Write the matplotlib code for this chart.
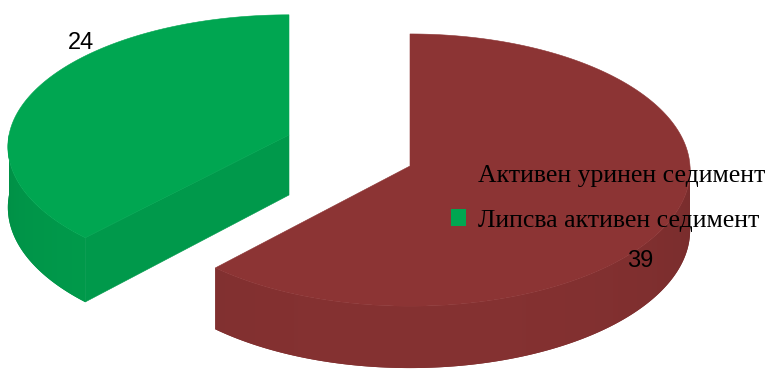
import numpy as np
import matplotlib
matplotlib.use("Agg")
import matplotlib.pyplot as plt
from matplotlib.patches import Polygon, Patch

# Data
categories = ["Активен уринен седимент", "Липсва активен седимент"]
values = [39, 24]
top_colors = ["#8C3434", "#00A651"]

# Canvas in pixel units
W, H = 773, 369
fig = plt.figure(figsize=(W / 100, H / 100), dpi=100)
ax = fig.add_axes([0, 0, 1, 1])
ax.set_xlim(0, W)
ax.set_ylim(H, 0)
ax.axis("off")

# 3-D pie geometry (pixels)
RX = 280
DEPTH = 60
# per-slice centre, vertical radius, perspective strength and label placement
slice_geom = [
    dict(cx=410, cy=166, ry=136, k=0.03, lab_off=19.0, lab_r=1.06),
    dict(cx=289, cy=135, ry=131, k=0.09, lab_off=22.0, lab_r=1.09),
]


def proj(g, theta_deg, r=1.0, z=0.0):
    """theta measured clockwise from 12 o'clock; z=1 is the bottom of the slab."""
    t = np.radians(theta_deg)
    u = r * np.sin(t)
    v = -r * np.cos(t)
    s = 1.0 / (1.0 - g["k"] * v)
    return g["cx"] + RX * u * s, g["cy"] + (g["ry"] * v + DEPTH * z) * s


def shade_factor(theta_deg):
    return 0.86 + 0.09 * (-np.cos(np.radians(theta_deg)))


total = float(sum(values))
bounds = np.concatenate([[0], np.cumsum(values) / total * 360.0])

# back slice first, front slice last
order = [1, 0]
for i in order:
    g = slice_geom[i]
    a, b = bounds[i], bounds[i + 1]
    col = np.array(matplotlib.colors.to_rgb(top_colors[i]))

    # curved outer wall (only the front half faces the viewer), shaded along x
    lo, hi = max(a, 90.0), min(b, 270.0)
    if hi > lo:
        th = np.linspace(lo, hi, 240)
        top = [proj(g, t) for t in th]
        bot = [proj(g, t, z=1) for t in th[::-1]]
        wall = Polygon(top + bot, closed=True, facecolor=tuple(col * 0.88),
                       edgecolor="none", zorder=2)
        ax.add_patch(wall)
        xs = np.array([p[0] for p in top])
        fs = shade_factor(th)
        srt = np.argsort(xs)
        x0, x1 = xs.min() - 2, xs.max() + 2
        cols = np.linspace(x0, x1, 400)
        fcol = np.interp(cols, xs[srt], fs[srt])
        img = np.clip(fcol[None, :, None] * col[None, None, :], 0, 1)
        img = np.repeat(img, 2, axis=0)
        ys = [p[1] for p in top + bot]
        im = ax.imshow(img, extent=(x0, x1, max(ys) + 2, min(ys) - 2),
                       aspect="auto", interpolation="bilinear", zorder=2)
        im.set_clip_path(wall)
        ax.set_xlim(0, W)
        ax.set_ylim(H, 0)

    # flat radial walls, drawn when they face the viewer
    for edge, sign in ((a, -1), (b, 1)):
        nv = sign * np.sin(np.radians(edge))
        if nv > 0.05:
            p = [proj(g, edge, r=0), proj(g, edge), proj(g, edge, z=1),
                 proj(g, edge, r=0, z=1)]
            c = tuple(col * 0.92)
            ax.add_patch(Polygon(p, closed=True, facecolor=c, edgecolor=c,
                                 lw=0.4, zorder=2))

    # top face
    th = np.linspace(a, b, 300)
    pts = [proj(g, 0, r=0)] + [proj(g, t) for t in th]
    ax.add_patch(Polygon(pts, closed=True, facecolor=tuple(col),
                         edgecolor=tuple(col), lw=0.4, zorder=3))

    # value label just outside the rim
    mid = 0.5 * (a + b)
    lx, ly = proj(g, mid + g["lab_off"], r=g["lab_r"])
    ax.text(lx, ly, str(values[i]), ha="center", va="center",
            fontsize=17, family="Liberation Sans", color="black", zorder=5)

handles = [Patch(facecolor=c, edgecolor="none") for c in top_colors]
ax.legend(handles, categories, loc="upper left",
          bbox_to_anchor=(451 / W, 1 - 165 / H), frameon=False,
          prop=dict(family="Liberation Serif", size=18.5),
          handlelength=0.6, handleheight=0.6, handletextpad=0.45,
          labelspacing=0.86, borderaxespad=0, borderpad=0)

fig.savefig("out.png", dpi=100)
